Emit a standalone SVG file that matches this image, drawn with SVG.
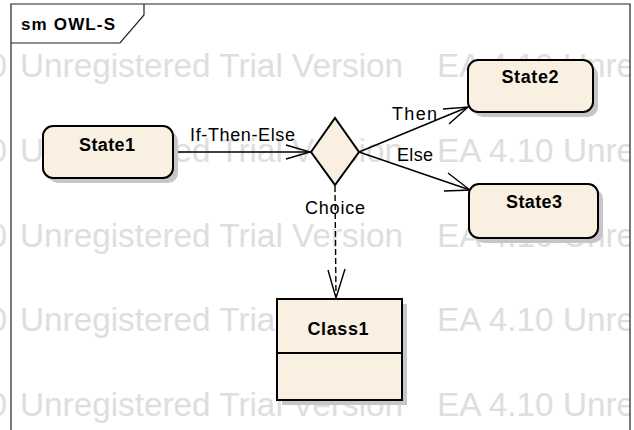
<svg xmlns="http://www.w3.org/2000/svg" width="634" height="430" viewBox="0 0 634 430">
  <defs>
    <style>
      .wm { font-family: "Liberation Sans", Arial, sans-serif; font-size: 33.3px; fill: #dedede; }
      .frame { fill: none; stroke: #222; stroke-width: 1.2; }
      .title { font-family: "Liberation Sans", Arial, sans-serif; font-size: 17px; font-weight: bold; fill: #000; }
      .node { fill: #f9f0e2; stroke: #000; stroke-width: 2; }
      .shadow { fill: #c6c6c6; }
      .name { font-family: "Liberation Sans", Arial, sans-serif; font-size: 18px; font-weight: bold; fill: #000; text-anchor: middle; }
      .edge { fill: none; stroke: #000; stroke-width: 1.4; }
      .dashed { stroke-dasharray: 6 3; }
      .lbl { font-family: "Liberation Sans", Arial, sans-serif; font-size: 18px; fill: #000; }
    </style>
    <clipPath id="inside">
      <rect x="0" y="0" width="630" height="430"/>
    </clipPath>
  </defs>

  <rect x="0" y="0" width="634" height="430" fill="#fff"/>

  <!-- evaluation watermark rows -->
  <g id="watermark" clip-path="url(#inside)">
    <g transform="translate(0,77)">
      <text class="wm" x="7" y="0" text-anchor="end">EA 4.10</text>
      <text class="wm" x="20" y="0">Unregistered Trial Version</text>
      <text class="wm" x="437" y="0">EA 4.10 Unregistered</text>
    </g>
    <g transform="translate(0,162)">
      <text class="wm" x="7" y="0" text-anchor="end">EA 4.10</text>
      <text class="wm" x="20" y="0">Unregistered Trial Version</text>
      <text class="wm" x="437" y="0">EA 4.10 Unregistered</text>
    </g>
    <g transform="translate(0,247)">
      <text class="wm" x="7" y="0" text-anchor="end">EA 4.10</text>
      <text class="wm" x="20" y="0">Unregistered Trial Version</text>
      <text class="wm" x="437" y="0">EA 4.10 Unregistered</text>
    </g>
    <g transform="translate(0,331)">
      <text class="wm" x="7" y="0" text-anchor="end">EA 4.10</text>
      <text class="wm" x="20" y="0">Unregistered Trial Version</text>
      <text class="wm" x="437" y="0">EA 4.10 Unregistered</text>
    </g>
    <g transform="translate(0,416)">
      <text class="wm" x="7" y="0" text-anchor="end">EA 4.10</text>
      <text class="wm" x="20" y="0">Unregistered Trial Version</text>
      <text class="wm" x="437" y="0">EA 4.10 Unregistered</text>
    </g>
  </g>

  <!-- diagram frame with name tab -->
  <g id="frame">
    <path class="frame" d="M11,440 V4 H630 V440"/>
    <path class="frame" d="M11,43 H120 L144,15 V4"/>
    <text class="title" x="21" y="30" textLength="94">sm OWL-S</text>
  </g>

  <!-- connectors -->
  <g id="connectors">
    <g id="e-state1-choice">
      <line class="edge" x1="173" y1="152" x2="310" y2="152"/>
      <polyline class="edge" points="286,145 310,152 286,159"/>
      <text class="lbl" x="190" y="141" textLength="105">If-Then-Else</text>
    </g>
    <g id="e-choice-state2">
      <line class="edge" x1="359" y1="152" x2="468" y2="107"/>
      <polyline class="edge" points="443,109 468,107 449,124"/>
      <text class="lbl" x="392" y="120" textLength="45">Then</text>
    </g>
    <g id="e-choice-state3">
      <line class="edge" x1="359" y1="152" x2="470" y2="190"/>
      <polyline class="edge" points="448,173 470,190 444,191"/>
      <text class="lbl" x="397" y="161" textLength="36">Else</text>
    </g>
    <g id="e-choice-class1">
      <text class="lbl" x="305" y="214" textLength="60">Choice</text>
      <line class="edge dashed" x1="335" y1="186" x2="336" y2="298"/>
      <polyline class="edge" points="328,270 336,298 345,269"/>
    </g>
  </g>

  <!-- nodes -->
  <g id="State1">
    <rect class="shadow" x="48" y="131" width="130" height="52" rx="10"/>
    <rect class="node" x="43" y="126" width="130" height="52" rx="10"/>
    <text class="name" x="107" y="151" textLength="56">State1</text>
  </g>

  <g id="Choice">
    <polygon class="node" points="311,152 335,118 359,152 335,185"/>
  </g>

  <g id="State2">
    <rect class="shadow" x="473" y="65" width="125" height="52" rx="10"/>
    <rect class="node" x="468" y="60" width="125" height="52" rx="10"/>
    <text class="name" x="530" y="83" textLength="57">State2</text>
  </g>

  <g id="State3">
    <rect class="shadow" x="474" y="189" width="129" height="54" rx="10"/>
    <rect class="node" x="469" y="184" width="129" height="54" rx="10"/>
    <text class="name" x="534" y="208" textLength="56">State3</text>
  </g>

  <g id="Class1">
    <rect class="shadow" x="282" y="304" width="125" height="101"/>
    <rect class="node" x="277" y="299" width="125" height="101"/>
    <line class="node" x1="277" y1="353" x2="402" y2="353"/>
    <text class="name" x="338" y="335" textLength="61">Class1</text>
  </g>
</svg>
